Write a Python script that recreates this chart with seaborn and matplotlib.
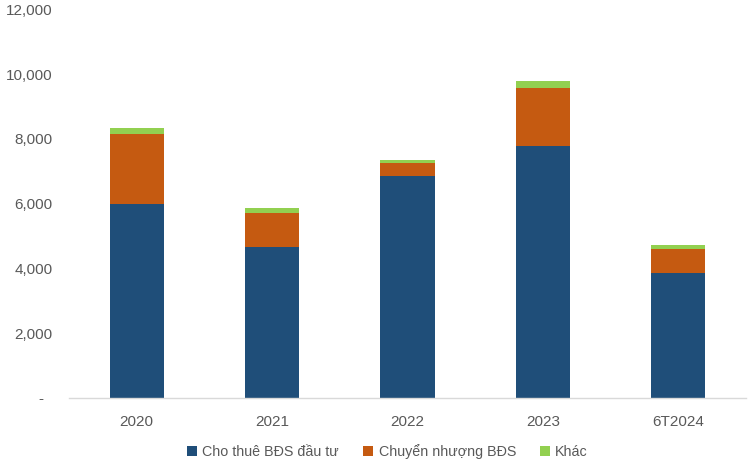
import matplotlib
matplotlib.use("Agg")
import matplotlib.pyplot as plt
from matplotlib.patches import Patch
from matplotlib.ticker import FuncFormatter
import seaborn as sns
import pandas as pd

# Revenue structure by year
years = ["2020", "2021", "2022", "2023", "6T2024"]
cho_thue = [5990, 4670, 6850, 7790, 3850]
chuyen_nhuong = [2160, 1030, 390, 1770, 750]
khac = [185, 175, 100, 225, 125]

series_names = ["Cho thuê BĐS đầu tư", "Chuyển nhượng BĐS", "Khác"]
colors = ["#1F4E79", "#C55A11", "#92D050"]

df = pd.DataFrame({
    "year": years,
    "blue": cho_thue,
    "orange": [a + b for a, b in zip(cho_thue, chuyen_nhuong)],
    "green": [a + b + c for a, b, c in zip(cho_thue, chuyen_nhuong, khac)],
})

sns.set_style("white")
plt.rcParams["font.family"] = ["Liberation Sans", "DejaVu Sans"]

fig = plt.figure(figsize=(7.52, 4.65), dpi=100)
ax = fig.add_axes([0.0918, 0.1441, 0.9002, 0.836])

# stacked bars: draw cumulative totals from top segment down
for col, c in zip(["green", "orange", "blue"], colors[::-1]):
    sns.barplot(data=df, x="year", y=col, color=c, width=0.4,
                saturation=1, ax=ax, linewidth=0)

ax.set_ylim(0, 12000)
ax.set_yticks(range(0, 12001, 2000))
ax.yaxis.set_major_formatter(FuncFormatter(lambda v, p: "-  " if v == 0 else f"{int(v):,}"))
ax.set_xlabel("")
ax.set_ylabel("")
ax.tick_params(axis="both", length=0, labelsize=11, colors="#595959")
ax.tick_params(axis="x", pad=12)
ax.tick_params(axis="y", pad=12)

for s in ["top", "right", "left"]:
    ax.spines[s].set_visible(False)
ax.spines["bottom"].set_color("#D9D9D9")
ax.spines["bottom"].set_linewidth(1)

handles = [Patch(facecolor=c, edgecolor="none") for c in colors]
fig.legend(handles, series_names, loc="center", bbox_to_anchor=(0.515, 0.028),
           ncol=3, frameon=False, fontsize=10.3, handlelength=0.7, handleheight=0.7,
           handletextpad=0.4, columnspacing=1.65, labelcolor="#595959")

fig.savefig("out.png", dpi=100)
